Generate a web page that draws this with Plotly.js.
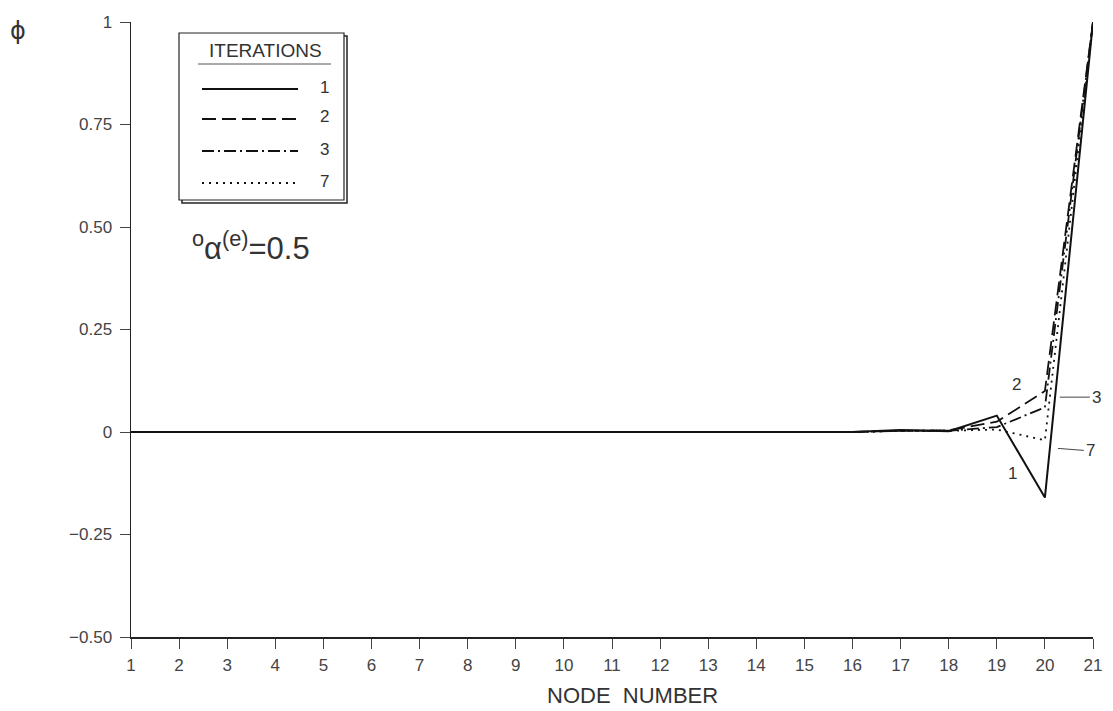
<!DOCTYPE html>
<html>
<head>
<meta charset="utf-8">
<script src="https://cdn.plot.ly/plotly-3.0.1.min.js"></script>
<style>html,body{margin:0;padding:0;background:#fff;}#chart{width:1113px;height:711px;}</style>
</head>
<body>
<div id="chart"></div>
<script>
// ---- data ----
const nodes = [1,2,3,4,5,6,7,8,9,10,11,12,13,14,15,16,17,18,19,20,21];
const iter1 = [0,0,0,0,0,0,0,0,0,0,0,0,0,0,0,0,0.005,0.002,0.04,-0.16,1];
const iter2 = [0,0,0,0,0,0,0,0,0,0,0,0,0,0,0,0,0.003,0.004,0.025,0.10,1];
const iter3 = [0,0,0,0,0,0,0,0,0,0,0,0,0,0,0,0,0.003,0.003,0.012,0.06,1];
const iter7 = [0,0,0,0,0,0,0,0,0,0,0,0,0,0,0,0,0.003,0.003,0.006,-0.02,1];
const seriesNames = ['1','2','3','7'];
const yTickVals = [1,0.75,0.5,0.25,0,-0.25,-0.5];
const yTickText = ['1','0.75','0.50','0.25','0','\u22120.25','\u22120.50'];

// ---- layout helpers (pixel -> paper) ----
const L = 131, R = 1093, T = 22, B = 637;
const px = x => (x - L) / (R - L);
const py = y => (B - y) / (B - T);

const dashes = ['solid', '14px,6px', '12px,4px,2px,4px', '2px,5px'];
const allSeries = [iter1, iter2, iter3, iter7];

const traces = allSeries.map((s, i) => ({
  x: nodes, y: s, type: 'scatter', mode: 'lines',
  name: seriesNames[i], showlegend: false,
  line: {color: '#111', width: i === 0 ? 2 : 1.8, dash: dashes[i]},
  hoverinfo: 'skip'
}));

const font = {family: 'Liberation Sans, Arial, sans-serif', color: '#444'};

const shapes = [];
// legend shadow and box
shapes.push({type:'rect', xref:'paper', yref:'paper', x0:px(182), x1:px(347), y0:py(203), y1:py(36),
  line:{color:'#222', width:1.5}, fillcolor:'#fff', layer:'above'});
shapes.push({type:'rect', xref:'paper', yref:'paper', x0:px(179), x1:px(344), y0:py(200), y1:py(33),
  line:{color:'#222', width:1.2}, fillcolor:'#fff', layer:'above'});
// underline of legend title
shapes.push({type:'line', xref:'paper', yref:'paper', x0:px(198), x1:px(331), y0:py(64), y1:py(64),
  line:{color:'#555', width:1}, layer:'above'});
// legend samples
const legY = [89, 119, 151, 183];
legY.forEach((yy, i) => {
  shapes.push({type:'line', xref:'paper', yref:'paper', x0:px(202), x1:px(298), y0:py(yy), y1:py(yy),
    line:{color:'#111', width:i===0?2:1.8, dash:dashes[i]}, layer:'above'});
});

const annotations = [];
annotations.push({xref:'paper', yref:'paper', x:px(265), y:py(51), text:'ITERATIONS', showarrow:false,
  font:{...font, size:19, color:'#333'}, xanchor:'center', yanchor:'middle'});
legY.forEach((yy, i) => {
  annotations.push({xref:'paper', yref:'paper', x:px(318), y:py(yy-2), text:seriesNames[i], showarrow:false,
    font:{...font, size:17, color:'#333'}, xanchor:'left', yanchor:'middle'});
});
// alpha label
annotations.push({xref:'paper', yref:'paper', x:px(190), y:py(246),
  text:'<sup>o</sup>\u03B1<sup>(e)</sup>=0.5', showarrow:false,
  font:{...font, size:31, color:'#333'}, xanchor:'left', yanchor:'middle'});
// phi axis label
annotations.push({xref:'paper', yref:'paper', x:px(18), y:py(31), text:'\u03D5', showarrow:false,
  font:{family:'DejaVu Sans, sans-serif', size:24, color:'#333'}, xanchor:'center', yanchor:'middle'});
// x axis title
annotations.push({xref:'paper', yref:'paper', x:px(632), y:py(695), text:'NODE  NUMBER', showarrow:false,
  font:{...font, size:22, color:'#333'}, xanchor:'center', yanchor:'middle'});
// curve labels
annotations.push({xref:'x', yref:'y', x:19.32, y:-0.10, text:'1', showarrow:false,
  font:{...font, size:17, color:'#333'}});
annotations.push({xref:'x', yref:'y', x:19.4, y:0.117, text:'2', showarrow:false,
  font:{...font, size:17, color:'#333'}});
annotations.push({xref:'x', yref:'y', x:20.31, y:0.085, text:'3', showarrow:true, arrowhead:0,
  arrowwidth:1, arrowcolor:'#444', ax:30, ay:0, xanchor:'left',
  font:{...font, size:17, color:'#333'}});
annotations.push({xref:'x', yref:'y', x:20.27, y:-0.040, text:'7', showarrow:true, arrowhead:0,
  arrowwidth:1, arrowcolor:'#444', ax:26, ay:2, xanchor:'left',
  font:{...font, size:17, color:'#333'}});

const layout = {
  width: 1113, height: 711,
  margin: {l: L, r: 1113 - R, t: T, b: 711 - B, pad: 0},
  paper_bgcolor: '#fff', plot_bgcolor: '#fff',
  showlegend: false,
  font: font,
  xaxis: {
    range: [1, 21], tickvals: nodes, ticktext: nodes.map(String),
    showgrid: false, zeroline: false, showline: true, linecolor: '#222', linewidth: 1.5,
    ticks: 'outside', ticklen: 10, tickcolor: '#444', tickwidth: 1,
    tickfont: {...font, size: 17}, ticklabelstandoff: 2, mirror: false
  },
  yaxis: {
    range: [-0.5, 1], tickvals: yTickVals, ticktext: yTickText,
    showgrid: false, zeroline: false, showline: true, linecolor: '#222', linewidth: 1.5,
    ticks: 'outside', ticklen: 10, tickcolor: '#444', tickwidth: 1,
    tickfont: {...font, size: 17}, ticklabelstandoff: 4, mirror: false
  },
  shapes: shapes,
  annotations: annotations
};

Plotly.newPlot('chart', traces, layout, {staticPlot: true, displayModeBar: false});
</script>
</body>
</html>
